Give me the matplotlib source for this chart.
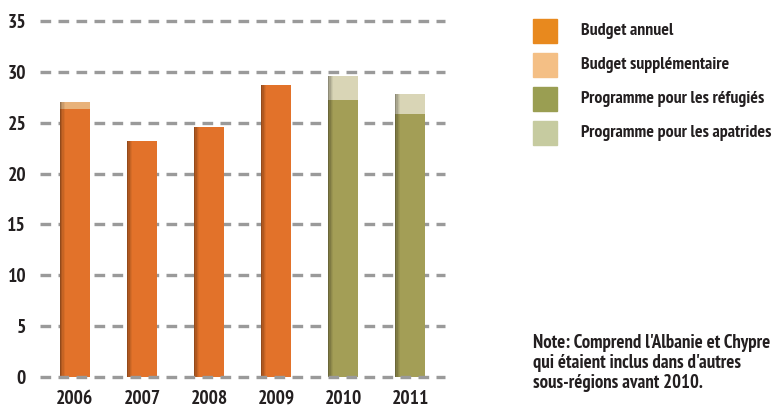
import matplotlib
matplotlib.use("Agg")
import matplotlib.pyplot as plt
from matplotlib.patches import Rectangle
from matplotlib import font_manager
import numpy as np

years = ["2006", "2007", "2008", "2009", "2010", "2011"]
budget_annuel = [26.3, 23.2, 24.6, 28.7, 0, 0]
budget_supp = [0.75, 0, 0, 0, 0, 0]
prog_refugies = [0, 0, 0, 0, 27.2, 25.85]
prog_apatrides = [0, 0, 0, 0, 2.35, 1.95]
yticks = [0, 5, 10, 15, 20, 25, 30, 35]
legend_labels = ["Budget annuel", "Budget supplémentaire",
                 "Programme pour les réfugiés", "Programme pour les apatrides"]
note = "Note: Comprend l'Albanie et Chypre\nqui étaient inclus dans d'autres\nsous-régions avant 2010."

names = {f.name for f in font_manager.fontManager.ttflist}
fam = "DejaVu Sans"
for cand in ["PT Sans Narrow", "Fira Sans Condensed", "Asap Condensed", "Roboto Condensed",
             "Archivo Narrow", "Encode Sans Condensed"]:
    if cand in names:
        fam = cand
        break
plt.rcParams['font.family'] = [fam, 'DejaVu Sans']
plt.rcParams['font.weight'] = 'bold'

c_annuel_bar = "#E2722A"
c_supp_bar = "#E8B27A"
c_ref_bar = "#A39E56"
c_apa_bar = "#D9D5B6"
leg_colors = ["#E8891E", "#F4BF85", "#9A9E52", "#C6CBA0"]
txt_col = "#231f20"

fig = plt.figure(figsize=(7.78, 4.12), dpi=100)
ax = fig.add_axes([40/778, 34.7/412, 405/778, (377.3-20.7)/412])
x = np.arange(len(years))
w = 0.45
ax.bar(x, budget_annuel, w, color=c_annuel_bar, zorder=2)
ax.bar(x, budget_supp, w, bottom=budget_annuel, color=c_supp_bar, zorder=2)
ax.bar(x, prog_refugies, w, color=c_ref_bar, zorder=2)
ax.bar(x, prog_apatrides, w, bottom=prog_refugies, color=c_apa_bar, zorder=2)

# left-edge shading to mimic the cylindrical look
totals = np.array(budget_annuel) + np.array(budget_supp) + np.array(prog_refugies) + np.array(prog_apatrides)
for k, a in enumerate([0.35, 0.22, 0.12, 0.05]):
    ax.bar(x - w/2 + 0.02*k, totals, 0.02, align='edge', color='black', alpha=a, lw=0, zorder=2.5)

for yv in yticks:
    ax.axhline(yv, color="#9a9a9a", lw=2.4, dashes=(3.2, 2.2), zorder=3 if yv == 0 else 1, clip_on=False)

ax.set_xlim(-0.52, 5.52)
ax.set_ylim(0, 35)
ax.set_yticks(yticks)
ax.set_yticklabels([str(v) for v in yticks], fontsize=14, color=txt_col)
ax.set_xticks(x)
ax.set_xticklabels(years, fontsize=14, color=txt_col)
ax.tick_params(axis='y', length=0, pad=10)
ax.tick_params(axis='x', length=0, pad=9)
for s in ax.spines.values():
    s.set_visible(False)

# legend
ys = [31, 65, 99, 133]
for col, lab, yy in zip(leg_colors, legend_labels, ys):
    fig.patches.append(Rectangle((533/778, (412-yy-12)/412), 24/778, 24/412,
                                 transform=fig.transFigure, color=col, figure=fig))
    fig.text(581/778, (412-yy)/412, lab, fontsize=12.8, va='center', ha='left', color=txt_col)

fig.text(533/778, (412-363)/412, note, fontsize=13.5, va='center', ha='left',
         linespacing=1.12, color=txt_col)

fig.savefig("out.png", dpi=100)
